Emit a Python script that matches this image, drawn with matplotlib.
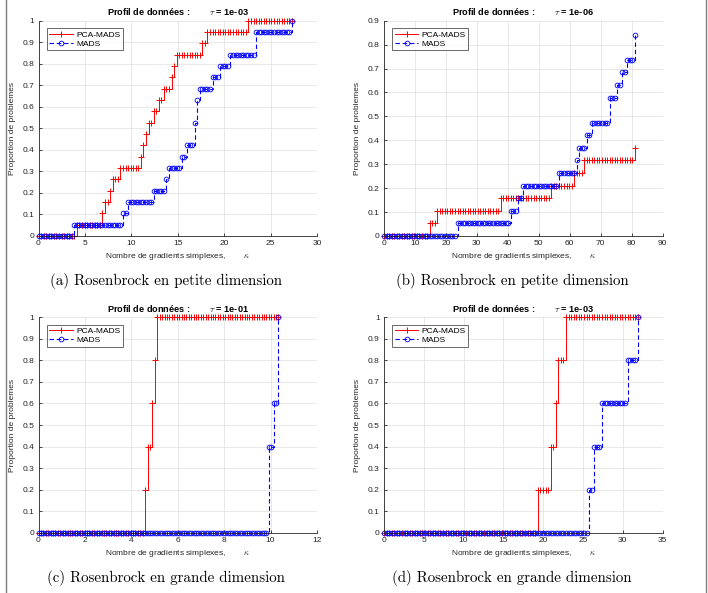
import numpy as np
import matplotlib
matplotlib.use("Agg")
import matplotlib.pyplot as plt
from matplotlib.lines import Line2D

plt.rcParams['font.family'] = ['Liberation Sans', 'DejaVu Sans']
plt.rcParams['mathtext.fontset'] = 'cm'

# step profiles: kappa where the curve steps up, and number of problems solved after it
# (a) petite dimension, tau = 1e-03, 19 problems
a_nprob = 19
a_kmax = 27.3
a_pca_k = [3.9, 6.7, 7.1, 7.5, 7.8, 8.6, 10.8, 11.1, 11.4, 11.6, 12.4, 12.9, 13.5, 14.3, 14.5, 14.8, 17.4, 18.1, 22.6]
a_pca_n = [1, 2, 3, 4, 5, 6, 7, 8, 9, 10, 11, 12, 13, 14, 15, 16, 17, 18, 19]
a_mads_k = [3.6, 9.1, 9.4, 12.2, 13.7, 14.0, 15.4, 15.9, 16.7, 17.0, 17.3, 18.6, 19.5, 20.5, 23.3, 27.3]
a_mads_n = [1, 2, 3, 4, 5, 6, 7, 8, 10, 12, 13, 14, 15, 16, 18, 19]

# (b) petite dimension, tau = 1e-06, 19 problems
b_nprob = 19
b_kmax = 81.1
b_pca_k = [14.3, 16.6, 36.9, 53.6, 60.8, 64.6, 81.1]
b_pca_n = [1, 2, 3, 4, 5, 6, 7]
b_mads_k = [23.7, 40.5, 42.8, 44.5, 56.3, 62.2, 63.0, 65.2, 66.5, 72.1, 72.8, 74.6, 76.2, 78.4, 80.5]
b_mads_n = [1, 2, 3, 4, 5, 6, 7, 8, 9, 10, 11, 12, 13, 14, 16]

# (c) grande dimension, tau = 1e-01, 5 problems
c_nprob = 5
c_kmax = 10.34
c_pca_k = [4.59, 4.69, 4.9, 5.0, 5.1]
c_pca_n = [1, 2, 3, 4, 5]
c_mads_k = [9.9, 10.1, 10.3]
c_mads_n = [2, 3, 5]

# (d) grande dimension, tau = 1e-03, 5 problems
d_nprob = 5
d_kmax = 31.9
d_pca_k = [19.3, 20.7, 21.4, 21.9, 22.6]
d_pca_n = [1, 2, 3, 4, 5]
d_mads_k = [25.7, 26.4, 27.1, 30.5, 31.9]
d_mads_n = [1, 2, 3, 4, 5]

panels = [
    dict(tau="1e-03", k=a_kmax, n=a_nprob, pk=a_pca_k, pn=a_pca_n, mk=a_mads_k, mn=a_mads_n,
         xt=np.arange(0, 31, 5), yt=np.arange(0, 11) / 10, xl=30, yl=1,
         cap="(a) Rosenbrock en petite dimension", rect=[38.5, 20.7, 317, 236]),
    dict(tau="1e-06", k=b_kmax, n=b_nprob, pk=b_pca_k, pn=b_pca_n, mk=b_mads_k, mn=b_mads_n,
         xt=np.arange(0, 91, 10), yt=np.arange(0, 10) / 10, xl=90, yl=0.9,
         cap="(b) Rosenbrock en petite dimension", rect=[384, 20.7, 662.5, 236]),
    dict(tau="1e-01", k=c_kmax, n=c_nprob, pk=c_pca_k, pn=c_pca_n, mk=c_mads_k, mn=c_mads_n,
         xt=np.arange(0, 13, 2), yt=np.arange(0, 11) / 10, xl=12, yl=1,
         cap="(c) Rosenbrock en grande dimension", rect=[38.5, 317.3, 317, 532.7]),
    dict(tau="1e-03", k=d_kmax, n=d_nprob, pk=d_pca_k, pn=d_pca_n, mk=d_mads_k, mn=d_mads_n,
         xt=np.arange(0, 36, 5), yt=np.arange(0, 11) / 10, xl=35, yl=1,
         cap="(d) Rosenbrock en grande dimension", rect=[384, 317.3, 662.5, 532.7]),
]

W, H = 708, 593
fig = plt.figure(figsize=(W / 100, H / 100), dpi=100)

# frame around the whole figure
fig.add_artist(Line2D([6 / W, 6 / W], [0, 1], color='#7f7f7f', lw=1.0))
fig.add_artist(Line2D([706 / W, 706 / W], [0, 1], color='#7f7f7f', lw=1.0))

dark = '#262626'


def profile(kgrid, steps_k, steps_n, nprob):
    bk = np.concatenate([[-1.0], steps_k])
    bn = np.concatenate([[0], steps_n])
    idx = np.searchsorted(bk, kgrid + 1e-9, side='right') - 1
    return bn[idx] / nprob


for p in panels:
    x0, y0, x1, y1 = p['rect']
    ax = fig.add_axes([x0 / W, 1 - y1 / H, (x1 - x0) / W, (y1 - y0) / H])
    kgrid = np.linspace(0, p['k'], 100)
    ax.plot(kgrid, profile(kgrid, p['pk'], p['pn'], p['n']), color='red', lw=0.7,
            marker='+', ms=4, mew=0.7, drawstyle='steps-post', clip_on=False, label='PCA-MADS')
    ax.plot(kgrid, profile(kgrid, p['mk'], p['mn'], p['n']), color='blue', lw=0.8, ls='--',
            dashes=(4, 2.5), marker='o', ms=3.4, mew=0.6, mfc='none', drawstyle='steps-post',
            clip_on=False, label='MADS')
    ax.set_xlim(0, p['xl'])
    ax.set_ylim(0, p['yl'])
    ax.set_xticks(p['xt'])
    ax.set_yticks(p['yt'])
    ax.set_xticklabels(['%g' % v for v in p['xt']])
    ax.set_yticklabels(['%g' % v for v in p['yt']])
    ax.tick_params(direction='in', length=2.5, width=0.6, labelsize=6, colors=dark, pad=3)
    for s in ['top', 'right']:
        ax.spines[s].set_visible(False)
    for s in ['left', 'bottom']:
        ax.spines[s].set_color(dark)
        ax.spines[s].set_linewidth(0.6)
    ax.grid(True, color='#dedede', lw=0.5)
    ax.set_axisbelow(True)
    ax.set_title("Profil de données :        $\\tau$ = " + p['tau'], fontsize=6.6,
                 fontweight='bold', pad=4)
    ax.set_xlabel("Nombre de gradients simplexes,        $\\kappa$", fontsize=6, color=dark,
                  labelpad=3)
    ax.set_ylabel("Proportion de problemes", fontsize=6, color=dark, labelpad=5)
    leg = ax.legend(loc='upper left', bbox_to_anchor=(0.03, 0.965), fontsize=6, frameon=True,
                    fancybox=False, edgecolor=dark, handlelength=2.8, borderpad=0.3,
                    labelspacing=0.15, handletextpad=0.4, borderaxespad=0)
    leg.get_frame().set_linewidth(0.6)
    fig.text((x0 + x1) / 2 / W - 0.016, 1 - (y1 + 45) / H, p['cap'], family='cmr10',
             fontsize=10.8, ha='center', va='center')

fig.savefig('out.png', dpi=100)
